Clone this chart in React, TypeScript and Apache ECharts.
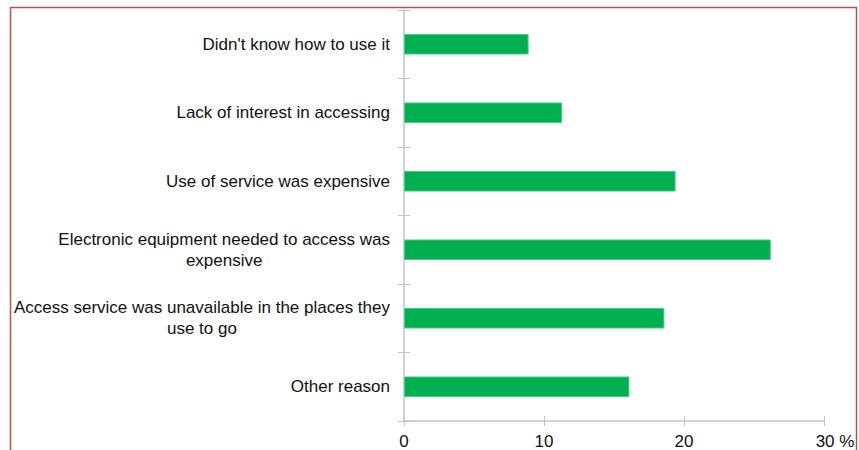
import React, { useEffect, useRef } from "react";
import * as echarts from "echarts";

const categories = [
  "Didn't know how to use it",
  "Lack of interest in accessing",
  "Use of service was expensive",
  "Electronic equipment needed to access was\nexpensive",
  "Access service was unavailable in the places they\nuse to go",
  "Other reason",
];
const values = [8.9, 11.3, 19.4, 26.2, 18.6, 16.1];
const xTicks = [0, 10, 20, 30];

export default function App() {
  const ref = useRef<HTMLDivElement>(null);
  useEffect(() => {
    if (!ref.current) return;
    const chart = echarts.init(ref.current, null, { renderer: "svg" });
    const font = "'Liberation Sans', Arial, sans-serif";
    const axisColor = "#c4c4c4";
    chart.setOption({
      animation: false,
      grid: { left: 404, right: 35, top: 10, bottom: 28, containLabel: false },
      xAxis: [
        {
          type: "value",
          min: xTicks[0],
          max: xTicks[xTicks.length - 1],
          interval: 10,
          axisLine: { show: true, lineStyle: { color: axisColor, width: 1.5 } },
          axisTick: { show: true, length: 5, lineStyle: { color: axisColor } },
          splitLine: { show: false },
          axisLabel: {
            margin: 12,
            fontFamily: font,
            fontSize: 17,
            color: "#111",
            formatter: (v: number) => (v === 30 ? "{p|30 %}" : String(v)),
            rich: { p: { fontFamily: font, fontSize: 17, color: "#111", padding: [0, 0, 0, 22] } },
          },
        },
        {
          type: "value",
          position: "bottom",
          min: xTicks[0],
          max: xTicks[xTicks.length - 1],
          interval: 10,
          axisLine: { show: false },
          axisTick: { show: true, inside: true, length: 5, lineStyle: { color: axisColor } },
          axisLabel: { show: false },
          splitLine: { show: false },
        },
      ],
      yAxis: [
        {
          type: "category",
          data: categories,
          inverse: true,
          axisLine: { show: true, lineStyle: { color: axisColor, width: 1.5 } },
          axisTick: { show: true, length: 6, alignWithLabel: false, lineStyle: { color: axisColor } },
          axisLabel: {
            margin: 14,
            fontFamily: font,
            fontSize: 17,
            color: "#111",
            align: "right",
            lineHeight: 21,
            formatter: (v: string) =>
              v
                .split("\n")
                .map((l) => `{c|${l}}`)
                .join("\n"),
            rich: { c: { align: "center", fontFamily: font, fontSize: 17, color: "#111", lineHeight: 21 } },
          },
        },
        {
          type: "category",
          data: categories,
          inverse: true,
          position: "left",
          axisLine: { show: false },
          axisTick: { show: true, inside: true, length: 6, lineStyle: { color: axisColor } },
          axisLabel: { show: false },
        },
      ],
      series: [
        {
          type: "bar",
          data: values,
          barWidth: "30%",
          itemStyle: { color: "#00b050", borderColor: "#4cc888", borderWidth: 1 },
        },
      ],
      graphic: [
        {
          type: "rect",
          shape: { x: 10.5, y: 7.5, width: 846, height: 470 },
          style: { fill: "none", stroke: "#b9514e", lineWidth: 1.5 },
          silent: true,
        },
      ],
    });
    return () => chart.dispose();
  }, []);
  return (
    <div
      ref={ref}
      style={{ position: "fixed", left: 0, top: 0, width: 859, height: 450, background: "#fff" }}
    />
  );
}
